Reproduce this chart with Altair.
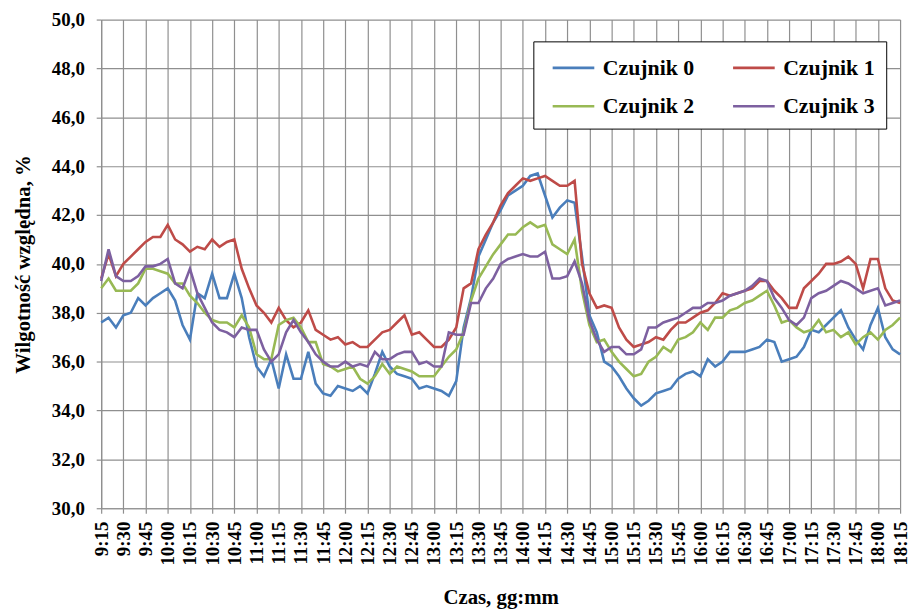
import altair as alt
import pandas as pd

start_min = 9 * 60 + 15
step_min = 5
series_names = ["Czujnik 0", "Czujnik 1", "Czujnik 2", "Czujnik 3"]
colors = ["#4A7EBB", "#BE4B48", "#98B954", "#7D60A0"]

czujnik0 = [37.6, 37.8, 37.4, 37.9, 38.0, 38.6, 38.3, 38.6, 38.8, 39.0, 38.5, 37.5,
            36.9, 38.8, 38.6, 39.6, 38.6, 38.6, 39.6, 38.6, 37.0, 35.8, 35.4, 36.1,
            34.9, 36.3, 35.3, 35.3, 36.4, 35.1, 34.7, 34.6, 35.0, 34.9, 34.8, 35.0,
            34.7, 35.5, 36.4, 35.8, 35.5, 35.4, 35.3, 34.9, 35.0, 34.9, 34.8, 34.6,
            35.2, 37.4, 38.6, 40.3, 41.0, 41.7, 42.2, 42.8, 43.0, 43.2, 43.6, 43.7,
            42.8, 41.9, 42.3, 42.6, 42.5, 40.3, 37.9, 37.2, 36.0, 35.8, 35.4, 34.9,
            34.5, 34.2, 34.4, 34.7, 34.8, 34.9, 35.3, 35.5, 35.6, 35.4, 36.1, 35.8,
            36.0, 36.4, 36.4, 36.4, 36.5, 36.6, 36.9, 36.8, 36.0, 36.1, 36.2, 36.6,
            37.3, 37.2, 37.5, 37.8, 38.1, 37.4, 36.9, 36.5, 37.5, 38.2, 37.0, 36.5,
            36.3]
czujnik1 = [39.4, 40.4, 39.5, 40.0, 40.3, 40.6, 40.9, 41.1, 41.1, 41.6, 41.0, 40.8,
            40.5, 40.7, 40.6, 41.0, 40.7, 40.9, 41.0, 39.8, 39.0, 38.3, 38.0, 37.6,
            38.2, 37.7, 37.4, 37.6, 38.1, 37.3, 37.1, 36.9, 37.0, 36.7, 36.8, 36.6,
            36.6, 36.9, 37.2, 37.3, 37.6, 37.9, 37.1, 37.2, 36.9, 36.6, 36.6, 36.9,
            37.4, 39.0, 39.2, 40.6, 41.2, 41.7, 42.4, 42.9, 43.2, 43.5, 43.4, 43.5,
            43.6, 43.4, 43.2, 43.2, 43.4, 40.0, 38.8, 38.2, 38.3, 38.2, 37.4, 36.9,
            36.6, 36.7, 36.8, 37.0, 36.9, 37.3, 37.6, 37.6, 37.8, 38.0, 38.1, 38.4,
            38.8, 38.7, 38.8, 38.9, 39.0, 39.3, 39.3, 38.9, 38.6, 38.2, 38.2, 39.0,
            39.3, 39.6, 40.0, 40.0, 40.1, 40.3, 40.0, 39.0, 40.2, 40.2, 39.0, 38.5,
            38.4]
czujnik2 = [39.0, 39.4, 38.9, 38.9, 38.9, 39.2, 39.8, 39.8, 39.7, 39.6, 39.2, 39.2,
            38.7, 38.4, 38.0, 37.7, 37.6, 37.6, 37.4, 37.9, 37.4, 36.3, 36.1, 36.1,
            37.5, 37.7, 37.8, 37.4, 36.8, 36.8, 35.9, 35.8, 35.6, 35.7, 35.8, 35.3,
            35.1, 35.4, 35.9, 35.5, 35.8, 35.7, 35.6, 35.4, 35.4, 35.4, 35.8, 36.2,
            36.5, 37.2, 38.5, 39.4, 39.9, 40.4, 40.8, 41.2, 41.2, 41.5, 41.7, 41.5,
            41.6, 40.8, 40.6, 40.4, 41.0, 38.9, 37.5, 36.8, 36.9, 36.4, 36.0, 35.7,
            35.4, 35.5, 36.0, 36.2, 36.6, 36.4, 36.9, 37.0, 37.2, 37.6, 37.3, 37.8,
            37.8, 38.1, 38.2, 38.4, 38.5, 38.7, 38.9, 38.3, 37.6, 37.7, 37.4, 37.2,
            37.3, 37.7, 37.2, 37.3, 37.0, 37.2, 36.7, 37.0, 37.2, 36.9, 37.3, 37.5,
            37.8]
czujnik3 = [39.3, 40.6, 39.5, 39.3, 39.3, 39.5, 39.9, 39.9, 40.0, 40.2, 39.2, 39.0,
            39.8, 38.8, 38.2, 37.6, 37.3, 37.2, 37.0, 37.4, 37.3, 37.3, 36.5, 36.0,
            36.3, 37.2, 37.7, 37.2, 36.8, 36.3, 36.0, 35.8, 35.8, 36.0, 35.8, 35.9,
            35.8, 36.4, 36.1, 36.1, 36.3, 36.4, 36.4, 35.9, 36.0, 35.8, 35.8, 37.2,
            37.1, 37.1, 38.4, 38.4, 39.0, 39.4, 40.0, 40.2, 40.3, 40.4, 40.3, 40.3,
            40.5, 39.4, 39.4, 39.5, 40.1, 39.2, 37.7, 36.9, 36.4, 36.6, 36.6, 36.3,
            36.3, 36.5, 37.4, 37.4, 37.6, 37.7, 37.8, 38.0, 38.2, 38.2, 38.4, 38.4,
            38.5, 38.7, 38.8, 38.9, 39.1, 39.4, 39.3, 38.6, 38.2, 37.7, 37.5, 37.8,
            38.6, 38.8, 38.9, 39.1, 39.3, 39.2, 39.0, 38.8, 38.9, 39.0, 38.3, 38.4,
            38.5]

all_series = [czujnik0, czujnik1, czujnik2, czujnik3]
rows = []
for name, vals in zip(series_names, all_series):
    for i, v in enumerate(vals):
        rows.append({"t": start_min + i * step_min, "v": v, "s": name})
df = pd.DataFrame(rows)

x_ticks = list(range(start_min, 18 * 60 + 15 + 1, 15))
y_ticks = list(range(30, 51, 2))
FONT = "Liberation Serif"

chart = alt.Chart(df).mark_line(strokeWidth=2.6).encode(
    x=alt.X("t:Q",
            scale=alt.Scale(domain=[x_ticks[0], x_ticks[-1]], nice=False, zero=False),
            axis=alt.Axis(values=x_ticks, title="Czas, gg:mm",
                          labelExpr="floor(datum.value/60) + ':' + format(datum.value % 60, '02d')",
                          labelAngle=270, labelPadding=8, titlePadding=22)),
    y=alt.Y("v:Q",
            scale=alt.Scale(domain=[30, 50], nice=False, zero=False),
            axis=alt.Axis(values=y_ticks, title="Wilgotność względna, %",
                          labelExpr="replace(format(datum.value, '.1f'), '.', ',')",
                          labelPadding=12, titlePadding=18)),
    color=alt.Color("s:N",
                    scale=alt.Scale(domain=series_names, range=colors),
                    legend=alt.Legend(title=None, orient="none", legendX=436, legendY=22,
                                      direction="horizontal",
                                      columns=2, columnPadding=30, rowPadding=12,
                                      symbolType="M-0.5,0H2.5", symbolSize=784,
                                      symbolStrokeWidth=2.6, labelOffset=28,
                                      labelFont=FONT, labelFontSize=22,
                                      labelFontWeight="bold", labelColor="black",
                                      strokeColor="black", fillColor="white",
                                      padding=11, labelLimit=300)),
).properties(
    width=806, height=493,
    autosize=alt.AutoSizeParams(type="none"),
    padding={"left": 94, "top": 9, "right": 10, "bottom": 100},
    background="white",
).configure_view(strokeWidth=0).configure_axis(
    grid=True, gridColor="#8f8f8f", gridWidth=1.2,
    domainColor="#8f8f8f", domainWidth=1.2,
    tickColor="#8f8f8f", tickSize=5, tickWidth=1.2,
    labelFont=FONT, labelFontSize=19, labelFontWeight="bold", labelColor="black",
    titleFont=FONT, titleFontSize=21, titleFontWeight="bold", titleColor="black",
)

chart.save("out.html", embed_options={"renderer": "svg", "actions": False})
